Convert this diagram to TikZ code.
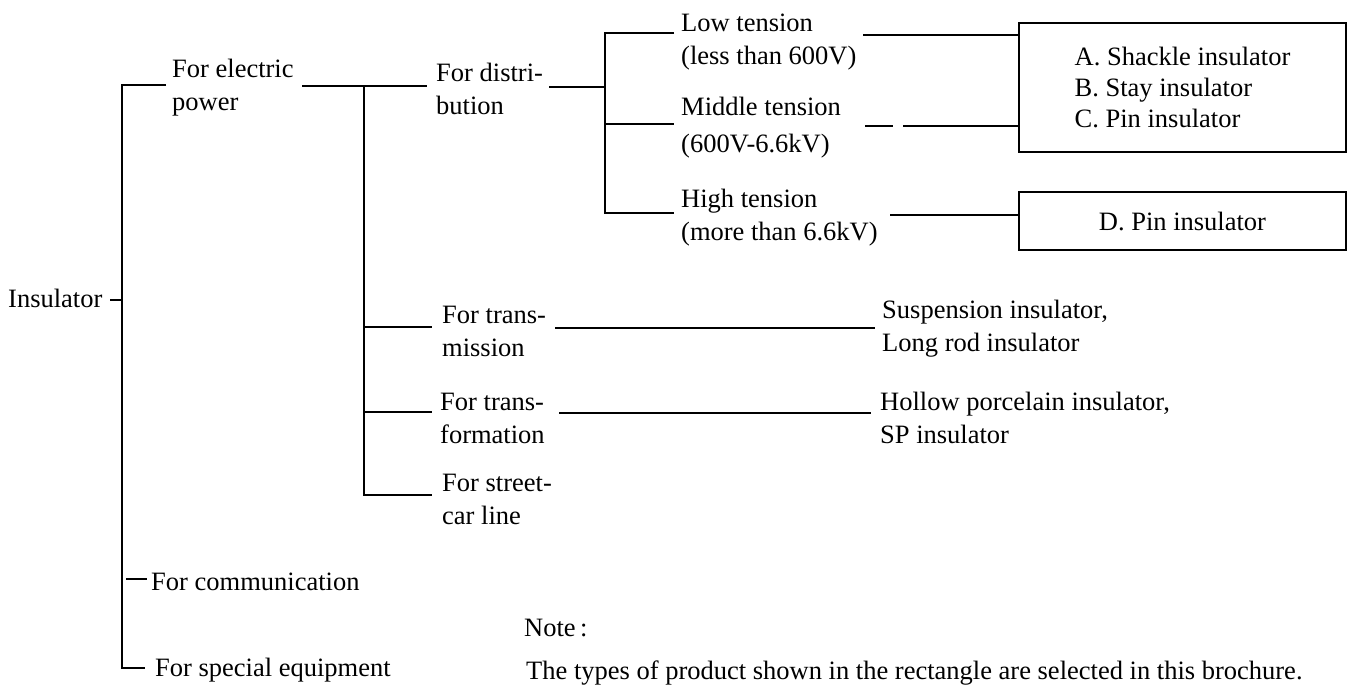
\documentclass[tikz,border=0pt]{standalone}
\usepackage{fontspec}
\setmainfont{Liberation Serif}
\begin{document}
\begin{tikzpicture}[x=1pt,y=-1pt,
  lbl/.style={anchor=west,inner sep=0pt,align=left,font=\fontsize{26.5}{33}\selectfont},
  ln/.style={line width=1.3pt},
  boxnode/.style={draw,line width=1.5pt,inner sep=0pt,align=left,font=\fontsize{26.5}{31}\selectfont}]
\useasboundingbox (0,0) rectangle (1353,685);
% text nodes
\node[lbl] (ins) at (8,298) {Insulator};
\node[lbl] (ep) at (172,88) {For electric\\power};
\node[lbl] (dist) at (436,89) {For distri-\\bution};
\node[lbl] (low) at (681,42) {Low tension\\(less than 600V)};
\node[lbl,font=\fontsize{26.5}{37}\selectfont] (mid) at (681,128) {Middle tension\\(600V-6.6kV)};
\node[lbl] (high) at (681,218) {High tension\\(more than 6.6kV)};
\node[lbl] (trm) at (442,331) {For trans-\\mission};
\node[lbl] (trf) at (440,418) {For trans-\\formation};
\node[lbl] (stc) at (442,499) {For street-\\car line};
\node[lbl] (sus) at (882,329) {Suspension insulator,\\Long rod insulator};
\node[lbl] (hol) at (880,418) {Hollow porcelain insulator,\\SP insulator};
\node[lbl] (com) at (151,582) {For communication};
\node[lbl] (spc) at (155,670) {For special equipment};
\node[lbl] (note) at (524,628) {Note\,:};
\node[lbl] (types) at (526,673) {The types of product shown in the rectangle are selected in this brochure.};
\node[boxnode,minimum width=327pt,minimum height=129pt] (boxA) at (1182.5,87.5)
  {A. Shackle insulator\\B. Stay insulator\\C. Pin insulator};
\node[boxnode,minimum width=327pt,minimum height=58pt] (boxD) at (1182.5,221) {D. Pin insulator};
% coordinates
\coordinate (mTop) at (122,85);
\coordinate (mBot) at (122,668);
\coordinate (epS) at (166,85);
\coordinate (insD) at (110,300);
\coordinate (insJ) at (122,300);
\coordinate (comA) at (126,579);
\coordinate (comB) at (147,579);
\coordinate (spS) at (145,668);
\coordinate (epR) at (302,86);
\coordinate (epJ) at (364,86);
\coordinate (distL) at (427,86);
\coordinate (epBot) at (364,495);
\coordinate (stcS) at (432,495);
\coordinate (trmJ) at (364,327);
\coordinate (trmS) at (432,327);
\coordinate (trfJ) at (364,412);
\coordinate (trfS) at (432,412);
\coordinate (distR) at (549,87);
\coordinate (dJ) at (605,87);
\coordinate (dTop) at (605,33);
\coordinate (dBot) at (605,213);
\coordinate (lowS) at (674,33);
\coordinate (midJ) at (605,124);
\coordinate (midS) at (674,124);
\coordinate (highS) at (674,213);
\coordinate (lowR) at (863,35);
\coordinate (midR) at (865,126);
\coordinate (midG1) at (893,126);
\coordinate (midG2) at (903,126);
\coordinate (highR) at (890,215);
\coordinate (trmR) at (555,328);
\coordinate (trmE) at (875,328);
\coordinate (trfR) at (559,413);
\coordinate (trfE) at (871,413);
% connectors
\draw[ln] (epS) -- (mTop) -- (mBot) -- (spS);
\draw[ln] (insD) -- (insJ);
\draw[ln] (comA) -- (comB);
\draw[ln] (epR) -- (distL);
\draw[ln] (epJ) -- (epBot) -- (stcS);
\draw[ln] (trmJ) -- (trmS);
\draw[ln] (trfJ) -- (trfS);
\draw[ln] (distR) -- (dJ);
\draw[ln] (lowS) -- (dTop) -- (dBot) -- (highS);
\draw[ln] (midJ) -- (midS);
\draw[ln] (lowR) -- (lowR -| boxA.west);
\draw[ln] (midR) -- (midG1);
\draw[ln] (midG2) -- (midG2 -| boxA.west);
\draw[ln] (highR) -- (highR -| boxD.west);
\draw[ln] (trmR) -- (trmE);
\draw[ln] (trfR) -- (trfE);
\end{tikzpicture}
\end{document}
